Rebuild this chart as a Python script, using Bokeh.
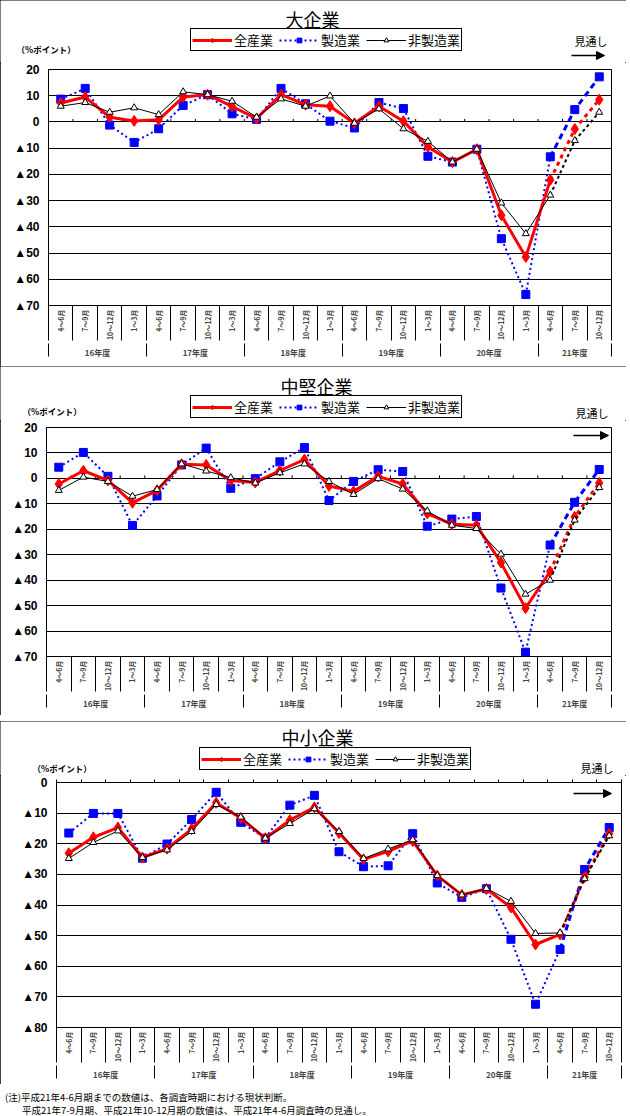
import numpy as np
from bokeh.plotting import figure
from bokeh.models import (Range1d, FixedTicker, LinearAxis, Legend, LegendItem,
                          Label, Arrow, NormalHead, Div, Spacer)
from bokeh.layouts import column
from bokeh.embed import file_html
from bokeh.resources import INLINE

# ---------------- data ----------------
quarters = ["4～6月", "7～9月", "10～12月", "1～3月"] * 5 + ["4～6月", "7～9月", "10～12月"]
years = ["16年度", "17年度", "18年度", "19年度", "20年度", "21年度"]
year_sizes = [4, 4, 4, 4, 4, 3]
series_names = ["全産業", "製造業", "非製造業"]
panel_titles = ["大企業", "中堅企業", "中小企業"]
forecast_start = 20   # index of 21年度 4～6月 (last actual), later points are outlook

# 大企業
large_all = [7.2, 9.5, 1.8, 0.4, 0.8, 9.5, 10.4, 5.9, 1.3, 10.4, 6.6, 6.0, -0.5, 6.0, 0.3,
             -9.5, -15.3, -10.4, -35.6, -51.5, -22.1, -2.7, 8.5]
large_mfg = [8.7, 12.8, -1.2, -7.8, -2.6, 6.3, 10.4, 3.1, 1.0, 12.8, 6.9, 0.3, -2.3, 7.4, 5.1,
             -13.1, -15.3, -10.4, -44.5, -65.8, -13.3, 4.7, 17.2]
large_non = [6.0, 7.4, 3.7, 5.4, 2.8, 11.5, 10.4, 7.9, 1.8, 8.8, 6.0, 9.9, -0.5, 5.0, -2.6,
             -7.4, -15.3, -10.4, -30.9, -42.6, -27.9, -7.1, 3.7]
# 中堅企業
mid_all = [-2.2, 3.0, -0.8, -9.6, -4.7, 5.6, 5.3, -0.8, -1.6, 3.1, 7.4, -3.0, -5.1, 0.8, -2.2,
           -13.8, -18.0, -18.4, -33.1, -51.0, -36.6, -15.1, -1.8]
mid_mfg = [4.4, 10.2, 0.8, -18.5, -6.9, 5.3, 11.9, -3.9, -0.1, 6.5, 12.1, -8.7, -1.2, 3.4, 2.7,
           -18.8, -16.0, -15.0, -43.1, -68.3, -26.2, -9.4, 3.5]
mid_non = [-4.7, 0.5, -1.2, -7.0, -4.4, 5.7, 2.9, 0.3, -1.8, 2.2, 5.7, -1.2, -6.3, -0.1, -4.2,
           -12.8, -18.4, -19.7, -29.8, -45.5, -40.0, -16.4, -3.6]
# 中小企業
small_all = [-23.1, -17.9, -14.7, -24.5, -21.6, -15.2, -6.6, -11.6, -18.2, -12.3, -8.1, -16.5,
             -25.1, -22.5, -19.1, -30.4, -36.7, -34.8, -40.8, -52.9, -49.6, -30.9, -16.7]
small_mfg = [-16.5, -10.1, -10.1, -24.7, -20.1, -12.1, -3.2, -13.0, -18.2, -7.4, -4.2, -22.6,
             -27.5, -27.2, -16.7, -32.8, -37.5, -34.7, -51.2, -72.4, -54.5, -28.4, -14.7]
small_non = [-24.8, -19.6, -15.8, -24.5, -22.0, -16.0, -7.2, -11.3, -18.2, -13.4, -8.6, -16.0,
             -24.8, -21.7, -18.7, -30.4, -36.7, -34.6, -38.8, -49.3, -49.1, -31.4, -17.4]

yticks_top = [20, 10, 0, -10, -20, -30, -40, -50, -60, -70]
yticks_bottom = [0, -10, -20, -30, -40, -50, -60, -70, -80]

unit_text = "（%ポイント）"
outlook_text = "見通し"
note_lines = ["(注)平成21年4-6月期までの数値は、各調査時期における現状判断。",
              "平成21年7-9月期、平成21年10-12月期の数値は、平成21年4-6月調査時の見通し。"]

# ---------------- styling / layout ----------------
JP = "Noto Sans CJK JP"
W = 626
RED, BLUE, BLACK = "#FF0000", "#0000FF", "#000000"
CHART_TOP = 7   # px of border above the chart frame inside the chart figure

# positions are px inside each panel box (panel top-left = 0,0)
cfgs = [
    dict(data=(large_all, large_mfg, large_non), ticks=yticks_top, H=366, L=48, R=611, T=69, B=305,
         title_xy=(312, 18), leg=(190, 51), unit_xy=(16, 48), mit_xy=(574, 40), arrow=(571, 604, 55)),
    dict(data=(mid_all, mid_mfg, mid_non), ticks=yticks_top, H=349, L=46, R=611, T=61, B=290,
         title_xy=(316, 19), leg=(190, 52), unit_xy=(22, 44), mit_xy=(575, 46), arrow=(573, 608, 69)),
    dict(data=(small_all, small_mfg, small_non), ticks=yticks_bottom, H=363, L=56, R=621, T=61, B=306,
         title_xy=(317, 15), leg=(199, 49), unit_xy=(32, 46), mit_xy=(580, 46), arrow=(573, 611, 72)),
]
GAP_BEFORE = [0, 0, 6]


def tick_label(v):
    return "▲%d" % abs(v) if v < 0 else str(v)


def series_glyphs(p, x, v_all, v_mfg, v_non, f):
    """draw the three series; returns (line, marker) renderer pairs for the legend"""
    bl = p.line(x[:f + 1], v_mfg[:f + 1], line_color=BLUE, line_width=2, line_dash="2 3")
    p.line(x[f:], v_mfg[f:], line_color=BLUE, line_width=3, line_dash="6 4")
    bs = p.scatter(x, v_mfg, marker="square", size=8, fill_color=BLUE, line_color=BLUE)
    rl = p.line(x[:f + 1], v_all[:f + 1], line_color=RED, line_width=3)
    p.line(x[f:], v_all[f:], line_color=RED, line_width=3, line_dash="4 4")
    rs = p.scatter(x, v_all, marker="diamond", size=11, fill_color=RED, line_color=RED)
    kl = p.line(x[:f + 1], v_non[:f + 1], line_color=BLACK, line_width=1)
    p.line(x[f:], v_non[f:], line_color=BLACK, line_width=2, line_dash="3 3")
    ks = p.scatter(x, v_non, marker="triangle", size=7, fill_color="white", line_color=BLACK,
                   line_width=1)
    return [(rl, rs), (bl, bs), (kl, ks)]


def make_panel(title, cfg):
    n = len(quarters)
    ymin, ymax = min(cfg["ticks"]), max(cfg["ticks"])
    L, R, T, B, H = cfg["L"], cfg["R"], cfg["T"], cfg["B"], cfg["H"]
    Th = T - CHART_TOP          # header height
    Hc = H - Th                 # chart figure height

    def dx(fx):
        return -0.5 + (fx - L) * n / (R - L)

    def dy(fy):
        return ymax - (fy - T) * (ymax - ymin) / (B - T)

    # ---------- header: title, legend, unit, outlook (its frame = whole header) ----------
    hdr = figure(width=W, height=Th, x_range=Range1d(0, W), y_range=Range1d(Th, 0),
                 x_axis_type=None, y_axis_type=None, output_backend="svg", toolbar_location=None,
                 min_border=0, min_border_left=0, min_border_right=0, min_border_top=0,
                 min_border_bottom=0, outline_line_color=None,
                 background_fill_color="white", border_fill_color="white")
    nan = np.array([np.nan])
    pairs = series_glyphs(hdr, nan, nan, nan, nan, 0)   # legend-only renderers (nothing drawn)
    lx, lb = cfg["leg"]
    legend = Legend(items=[LegendItem(label=s, renderers=list(pr)) for s, pr in zip(series_names, pairs)],
                    orientation="horizontal", location=(lx, Th - lb),
                    border_line_color="black", border_line_width=1, border_line_alpha=1,
                    background_fill_color="white", background_fill_alpha=1,
                    padding=1, spacing=6, margin=0, glyph_width=40, glyph_height=12,
                    label_height=12, label_standoff=2,
                    label_text_font=JP, label_text_font_size="13px", label_text_color="black")
    hdr.add_layout(legend)
    tx, ty = cfg["title_xy"]
    hdr.add_layout(Label(x=tx, y=ty, text=title, text_align="center", text_baseline="middle",
                         text_font=JP, text_font_size="18px", text_color="black"))
    ux, uy = cfg["unit_xy"]
    hdr.add_layout(Label(x=ux, y=uy, text=unit_text, text_align="left", text_baseline="middle",
                         text_font=JP, text_font_size="8.5px", text_font_style="bold",
                         text_color="black"))
    mx, my = cfg["mit_xy"]
    hdr.add_layout(Label(x=mx, y=my, text=outlook_text, text_align="left", text_baseline="middle",
                         text_font=JP, text_font_size="11px", text_color="black"))

    # ---------- chart ----------
    p = figure(width=W, height=Hc, x_range=Range1d(-0.5, n - 0.5), y_range=Range1d(ymin, ymax),
               x_axis_type=None, output_backend="svg", toolbar_location=None,
               min_border_left=L, min_border_right=W - R, min_border_top=CHART_TOP,
               min_border_bottom=H - B,
               background_fill_color="white", border_fill_color="white")
    p.outline_line_color = "black"
    p.outline_line_width = 1

    yt = FixedTicker(ticks=cfg["ticks"])
    p.yaxis.ticker = yt
    p.yaxis.major_label_overrides = {v: tick_label(v) for v in cfg["ticks"]}
    p.yaxis.major_tick_line_color = None
    p.yaxis.minor_tick_line_color = None
    p.yaxis.major_tick_out = 0
    p.yaxis.major_tick_in = 0
    p.yaxis.minor_tick_out = 0
    p.yaxis.axis_line_color = "black"
    p.yaxis.major_label_standoff = 9
    p.yaxis.major_label_text_font = "Liberation Sans"
    p.yaxis.major_label_text_font_style = "bold"
    p.yaxis.major_label_text_font_size = "12px"
    p.yaxis.major_label_text_color = "black"
    p.ygrid.ticker = yt
    p.ygrid.grid_line_color = "black"
    p.ygrid.grid_line_width = 1.2

    idx = list(range(n))
    bounds = [i - 0.5 for i in range(n + 1)]
    qa = LinearAxis(ticker=FixedTicker(ticks=idx, minor_ticks=bounds),
                    major_label_overrides={i: quarters[i] for i in idx},
                    major_label_orientation=np.pi / 2,
                    major_tick_line_color=None, major_tick_in=0, major_tick_out=0,
                    minor_tick_in=0, minor_tick_out=35, minor_tick_line_color="black",
                    axis_line_color="black",
                    major_label_text_font=JP, major_label_text_font_size="7px",
                    major_label_text_font_style="bold", major_label_standoff=-31)
    p.add_layout(qa, "below")
    ybounds = [-0.5]
    for s in year_sizes:
        ybounds.append(ybounds[-1] + s)
    ycent = [(ybounds[i] + ybounds[i + 1]) / 2 for i in range(len(years))]
    ya = LinearAxis(ticker=FixedTicker(ticks=ycent, minor_ticks=ybounds),
                    major_label_overrides={c: y for c, y in zip(ycent, years)},
                    major_tick_line_color=None, major_tick_in=0, major_tick_out=0,
                    minor_tick_in=0, minor_tick_out=13, minor_tick_line_color="black",
                    axis_line_color=None,
                    major_label_text_font=JP, major_label_text_font_size="8px",
                    major_label_text_font_style="bold", major_label_standoff=-10)
    p.add_layout(ya, "below")

    if ymin < 0 < ymax:
        tick_h = 3 * (ymax - ymin) / (B - T)
        p.segment(x0=bounds, y0=[0] * len(bounds), x1=bounds, y1=[tick_h] * len(bounds),
                  line_color="black", line_width=1)
    else:
        ta = LinearAxis(ticker=FixedTicker(ticks=[], minor_ticks=bounds),
                        major_tick_line_color=None, major_tick_out=0, major_tick_in=0,
                        minor_tick_in=0, minor_tick_out=3, minor_tick_line_color="black",
                        axis_line_color=None, major_label_text_font_size="0px")
        p.add_layout(ta, "above")

    v_all, v_mfg, v_non = cfg["data"]
    series_glyphs(p, np.arange(n), v_all, v_mfg, v_non, forecast_start)

    ax0, ax1, ay = cfg["arrow"]
    head = NormalHead(size=8, fill_color="black", line_color="black")
    if ay < Th:
        hdr.add_layout(Arrow(x_start=ax0, y_start=ay, x_end=ax1, y_end=ay,
                             line_color="black", line_width=1.5, end=head))
    else:
        p.add_layout(Arrow(x_start=dx(ax0), y_start=dy(ay), x_end=dx(ax1), y_end=dy(ay),
                           line_color="black", line_width=1.5, end=head))

    # header in its own column so its frame is not aligned to the chart's frame
    return column(column(hdr, spacing=0), p, spacing=0, width=W,
                  styles={"outline": "1px solid black", "outline-offset": "-1px"})


items = []
for t, c, g in zip(panel_titles, cfgs, GAP_BEFORE):
    if g:
        items.append(Spacer(width=W, height=g))
    items.append(make_panel(t, c))

note = Div(text=("<div style='line-height:13px'>" + note_lines[0] + "</div>"
                 "<div style='line-height:13px;padding-left:17px'>" + note_lines[1] + "</div>"),
           width=W, height=30,
           styles={"font-family": "'Noto Sans CJK JP'", "font-size": "9.5px",
                   "white-space": "nowrap", "color": "black", "padding-top": "2px"})
items.append(note)

layout = column(*items, spacing=0)
open("out.html", "w").write(file_html(layout, INLINE))
